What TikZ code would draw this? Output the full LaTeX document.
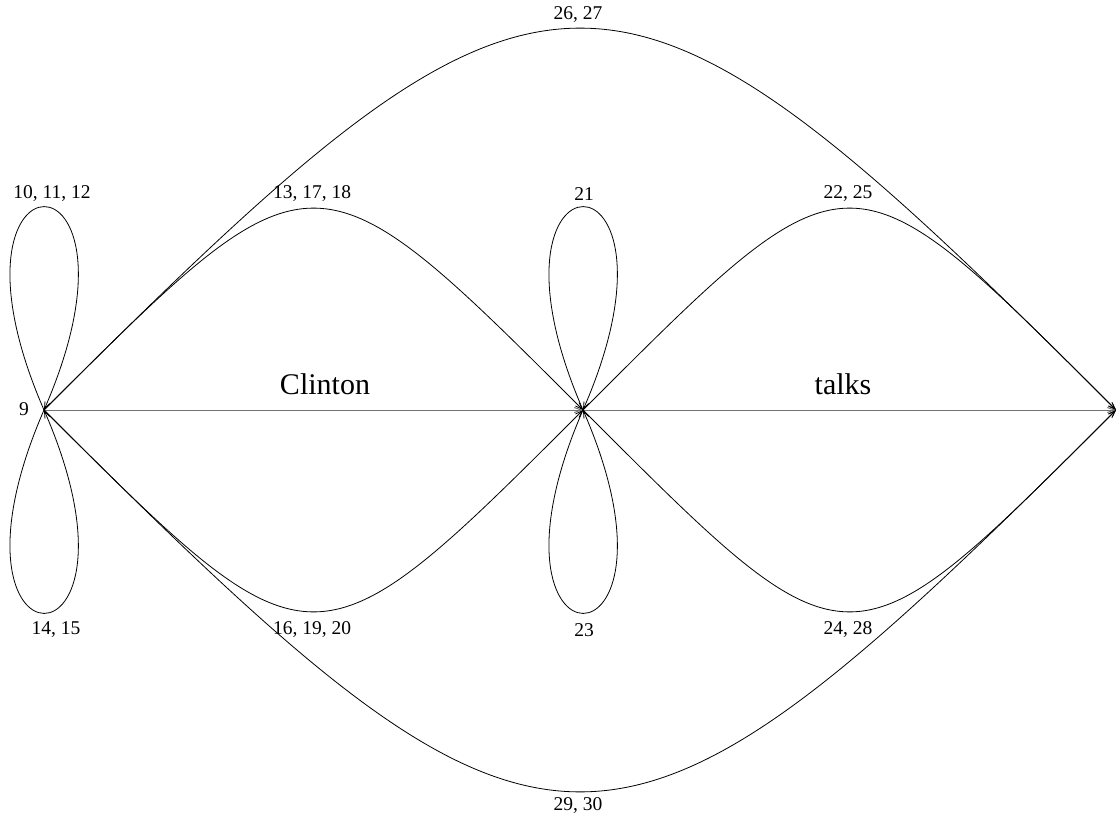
\documentclass[tikz,border=0pt]{standalone}
\usepackage{fontspec}
\setmainfont{Liberation Serif}
\usetikzlibrary{arrows.meta}
\tikzset{
  edge/.style={draw=black, line width=0.8pt, -{Straight Barb[length=7pt,width=5pt]}},
  hedge/.style={draw=black!55, line width=1pt, -{Straight Barb[length=7pt,width=5pt]}},
  lab/.style={font=\fontsize{19.5}{19.5}\selectfont, inner sep=0pt},
  word/.style={font=\fontsize{30}{30}\selectfont, inner sep=0pt},
  pt/.style={inner sep=0pt, minimum size=0pt}
}
\begin{document}
\begin{tikzpicture}[x=1pt,y=-1pt]
\useasboundingbox (0,0) rectangle (1116,832);
\node[pt] (a) at (44,410) {};
\node[pt] (b) at (583,410) {};
\node[pt] (c) at (1116,410) {};
% straight edges
\draw[hedge] (a) -- (b);
\draw[hedge] (b) -- (c);
% upper arcs
\draw[edge] (a.center) .. controls +(269,-269) and +(-269,-269) .. (b.center);
\draw[edge] (b.center) .. controls +(269,-269) and +(-269,-269) .. (c.center);
\draw[edge] (a.center) .. controls +(509,-509) and +(-509,-509) .. (c.center);
% lower arcs
\draw[edge] (a.center) .. controls +(269,269) and +(-269,269) .. (b.center);
\draw[edge] (b.center) .. controls +(269,269) and +(-269,269) .. (c.center);
\draw[edge] (a.center) .. controls +(509,509) and +(-509,509) .. (c.center);
% loops
\draw[edge] (a.center) .. controls +(-118,-271) and +(118,-271) .. (a.center);
\draw[edge] (a.center) .. controls +(-118,271) and +(118,271) .. (a.center);
\draw[edge] (b.center) .. controls +(-118,-271) and +(118,-271) .. (b.center);
\draw[edge] (b.center) .. controls +(-118,271) and +(118,271) .. (b.center);
% labels
\node[lab] (l9) at (24,409) {9};
\node[lab] (l10) at (52,194) {10, 11, 12};
\node[lab] (l14) at (56,630) {14, 15};
\node[lab] (l13) at (312,194) {13, 17, 18};
\node[lab] (l16) at (312,630) {16, 19, 20};
\node[lab] (l21) at (584,194) {21};
\node[lab] (l23) at (584,630) {23};
\node[lab] (l22) at (848,194) {22, 25};
\node[lab] (l24) at (848,630) {24, 28};
\node[lab] (l26) at (578,15) {26, 27};
\node[lab] (l29) at (578,806) {29, 30};
\node[word] (w1) at (325,384) {Clinton};
\node[word] (w2) at (843,384) {talks};
\end{tikzpicture}
\end{document}
